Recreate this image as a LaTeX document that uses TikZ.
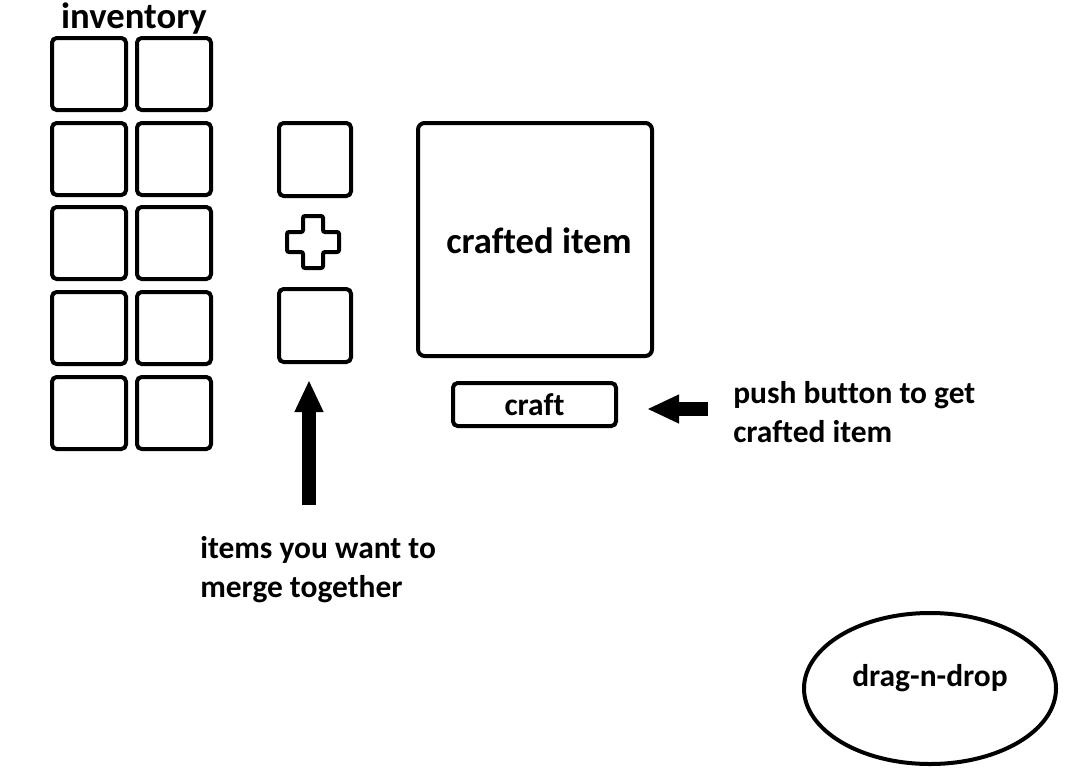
\documentclass[tikz,border=0pt]{standalone}
\usepackage{fontspec}
\setmainfont{Carlito}[RawFeature={-liga;-clig;-calt;-dlig}]
\usetikzlibrary{positioning, shapes.geometric, arrows.meta}

\tikzset{
	slot/.style={rectangle, draw, line width=3pt, rounded corners=3.5pt, inner sep=0pt},
	bigtext/.style={font=\fontsize{27.5}{33}\selectfont\bfseries, inner sep=0pt},
	midtext/.style={font=\fontsize{23.6}{29.25}\selectfont\bfseries, inner sep=0pt, align=left},
	fatarrow/.style={line width=11pt, -{Triangle[width=20pt, length=24pt]}},
}

\begin{document}
\begin{tikzpicture}[x=0.75pt, y=-0.75pt]

		\useasboundingbox (0,0) rectangle (1084,778);

		%Inventory
		\node (invTitle) at (134,28) [bigtext, anchor=base] {inventory};
		\foreach \row/\y in {1/74, 2/159, 3/243, 4/328, 5/413}{
			\foreach \col/\x in {1/89, 2/174}{
				\node (inv-\row-\col) at (\x,\y) [slot, minimum width=55.5pt, minimum height=54pt]{};
			}
		}

		%Merge slots
		\node (slotA) at (315,159.5) [slot, minimum width=54pt, minimum height=54.75pt]{};
		\node (slotB) at (315,325.5) [slot, minimum width=54pt, minimum height=54.75pt]{};
		\draw[line width=3pt, rounded corners=1.5pt] (313,242)
			++(-10,-26) -- ++(20,0) -- ++(0,16) -- ++(16,0) -- ++(0,20) -- ++(-16,0)
			-- ++(0,16) -- ++(-20,0) -- ++(0,-16) -- ++(-16,0) -- ++(0,-20) -- ++(16,0) -- cycle;

		%Result
		\node (result) at (535,239.5) [slot, rounded corners=5pt,
			minimum width=175.5pt, minimum height=174.75pt]{};
		\node at (539,253) [bigtext, anchor=base]{crafted item};
		\node (craft) at (534.5,404.5) [slot, minimum width=122.25pt, minimum height=32.25pt,
			font=\fontsize{23.6}{28}\selectfont\bfseries]{craft};

		%Notes
		\node (pushNote) at (733,442) [midtext, anchor=base west]{push button to get \\ crafted item};
		\node (mergeNote) at (200,597) [midtext, anchor=base west]{items you want to \\ merge together};
		\node (dnd) at (930,688.5) [ellipse, draw, line width=3pt, inner sep=0pt,
			minimum width=189pt, minimum height=113.25pt]{};
		\node at ([yshift=7.5pt]dnd.center) [midtext]{drag-n-drop};

		%Arrows
		\coordinate (upTail) at (309,505);
		\coordinate (leftTail) at (708,409);
		\draw[fatarrow, shorten >=12pt] (upTail) -- (upTail |- slotB.south);
		\draw[fatarrow, shorten >=21.75pt] (leftTail) -- (leftTail -| craft.east);

\end{tikzpicture}
\end{document}
